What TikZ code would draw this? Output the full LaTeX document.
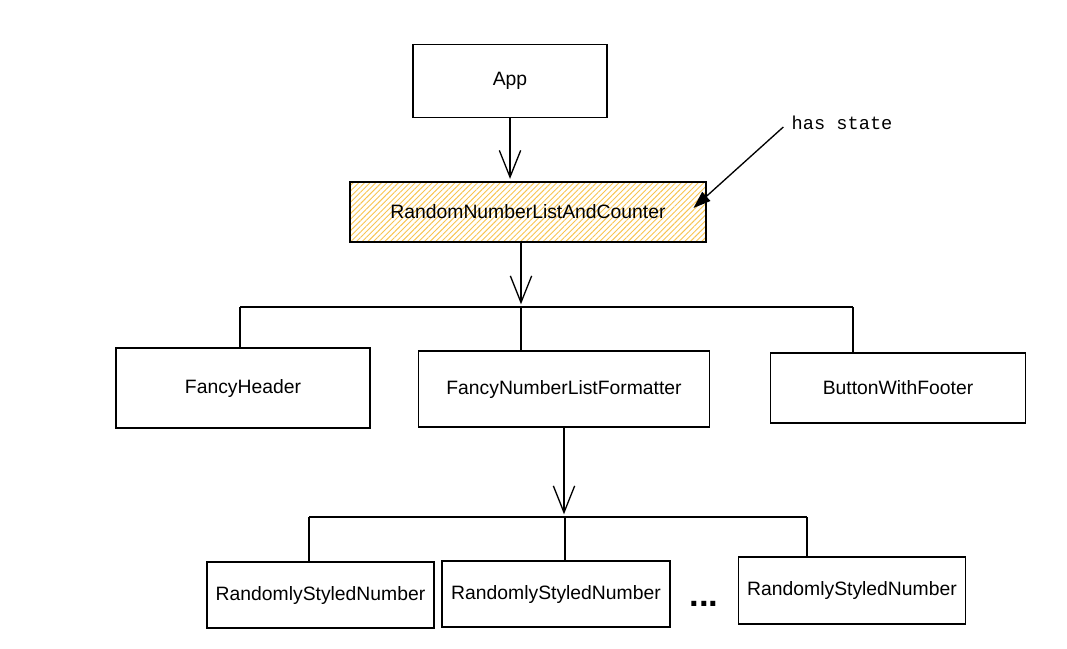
\documentclass[tikz,border=0pt]{standalone}
\usepackage{fontspec}
\setmainfont{Liberation Sans}
\setmonofont{Liberation Mono}
\usetikzlibrary{arrows.meta, patterns.meta, positioning}
\definecolor{hatch}{RGB}{248,196,80}

\begin{document}
\begin{tikzpicture}[x=0.75pt, y=-0.75pt, >={Straight Barb[length=20pt,width=16pt]},
  box/.style={draw, line width=1pt, font=\fontsize{14.5}{17}\selectfont},
  wire/.style={line width=1pt},
  flow/.style={->, line width=1pt, shorten >=2pt}]
\useasboundingbox (0,0) rectangle (1067,649);

\node[box, minimum width=145.5pt, minimum height=54.75pt] (app) at (510,81) {App};
\node[box, minimum width=267pt, minimum height=45pt,
  pattern={Lines[angle=45, distance=3pt, line width=0.7pt]}, pattern color=hatch] (rnlac) at (528,212) {RandomNumberListAndCounter};
\node[font=\ttfamily\fontsize{14}{16}\selectfont, inner sep=2pt] (state) at (842,123) {has state};

\node[box, minimum width=190.5pt, minimum height=60pt] (fh) at (243,388) {FancyHeader};
\node[box, minimum width=218.25pt, minimum height=57pt] (fnlf) at (564,389) {FancyNumberListFormatter};
\node[box, minimum width=191.25pt, minimum height=52.5pt] (bwf) at (898,388) {ButtonWithFooter};

\node[box, minimum width=170.25pt, minimum height=49.5pt] (rsn1) at (320.5,595) {RandomlyStyledNumber};
\node[box, minimum width=171pt, minimum height=49.5pt] (rsn2) at (556,594) {RandomlyStyledNumber};
\node[font=\bfseries\fontsize{26}{26}\selectfont, inner sep=0pt] (dots) at (704,604) {...};
\node[box, minimum width=170.25pt, minimum height=50.25pt] (rsn3) at (852,590.5) {RandomlyStyledNumber};

% top arrows
\draw[flow] (app.south) -- (app.south |- rnlac.north);
\draw[-{Triangle[length=13pt,width=9pt]}, line width=1pt] ([xshift=-4pt,yshift=-3pt]state.west) -- ([shift={(-9.75pt,3pt)}]rnlac.east);

% first bus
\coordinate (busa) at (521,307);
\coordinate (busal) at (240,307);
\coordinate (busar) at (853,307);
\draw[flow] (busa |- rnlac.south) -- (busa);
\draw[wire] (busal) -- (busar);
\draw[wire] (busal) -- (busal |- fh.north);
\draw[wire] (busa) -- (busa |- fnlf.north);
\draw[wire] (busar) -- (busar |- bwf.north);

% second bus
\coordinate (busb) at (565,517);
\coordinate (busbl) at (309,517);
\coordinate (busbr) at (807,517);
\draw[flow] (fnlf.south) -- (fnlf.south |- busb);
\draw[wire] (busbl) -- (busbr);
\draw[wire] (busbl) -- (busbl |- rsn1.north);
\draw[wire] (busb) -- (busb |- rsn2.north);
\draw[wire] (busbr) -- (busbr |- rsn3.north);
\end{tikzpicture}
\end{document}
